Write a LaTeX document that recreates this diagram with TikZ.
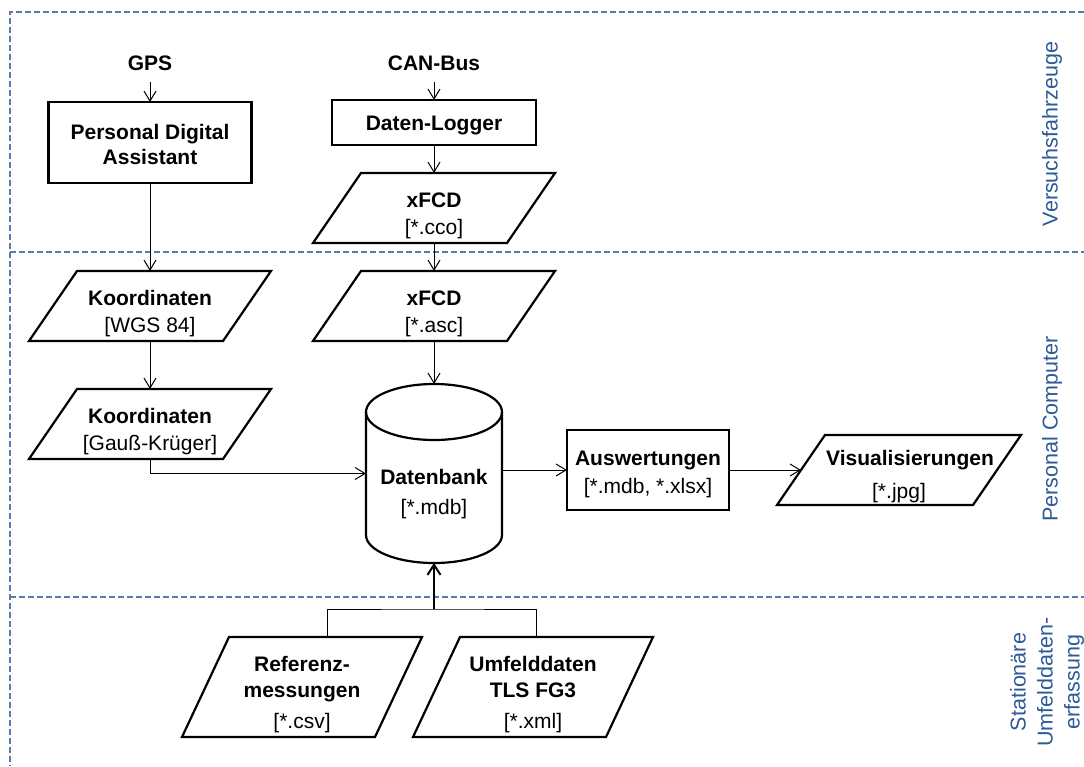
\documentclass[tikz,border=0pt]{standalone}
\usepackage{fontspec}
\setmainfont{Liberation Sans}
\usetikzlibrary{arrows.meta,calc}
\definecolor{dashc}{RGB}{90,122,170}
\definecolor{labc}{RGB}{46,90,151}
\newcommand\myrise[1]{\rule{0pt}{#1pt}}
\newcommand\myparallelogram[2]{%
  \draw[shp] ($(#1.south west)+(-#2,0)$) -- ($(#1.north west)+(#2,0)$) --
    ($(#1.north east)+(#2,0)$) -- ($(#1.south east)+(-#2,0)$) -- cycle;}
\begin{document}
\begin{tikzpicture}[x=1pt,y=-1pt,
  base/.style={inner sep=0pt, outer sep=0pt, align=center, font=\fontsize{21}{27}\selectfont},
  head/.style={base, font=\fontsize{21}{27}\selectfont\bfseries},
  shp/.style={draw=black, line width=2.2pt, line join=miter},
  boxn/.style={base, draw=black, line width=2.2pt, minimum width=#1},
  paran/.style={base, minimum width=194, minimum height=70},
  conn/.style={draw=black, line width=1pt},
  arr/.style={conn, -{Straight Barb[length=10pt,width=12pt]}},
  trunk/.style={draw=black, line width=2pt, -{Straight Barb[length=10pt,width=13pt]}},
  frame/.style={draw=dashc, line width=1.2pt, dash pattern=on 6pt off 3pt},
  side/.style={base, text=labc, rotate=90, font=\fontsize{21.5}{27}\selectfont},
]
\fill[white] (0,0) rectangle (1084,766);
\useasboundingbox (0,0) rectangle (1084,766);
% frame
\draw[frame] (1084,12) -- (10,12) -- (10,766);
\draw[frame] (10,252) -- (1084,252);
\draw[frame] (10,597) -- (1084,597);
% side labels
\node[side] (l1) at (1052,134) {Versuchsfahrzeuge};
\node[side] (l2) at (1052,429) {Personal Computer};
\node[side] (l3) at (1047,682) {Stationäre\\Umfelddaten-\\erfassung};
% nodes
\node[head] (gps) at (150,63) {GPS};
\node[boxn=203, minimum height=81] (pda) at (150,142.5) {\myrise{19}\textbf{Personal Digital}\\[-2pt]\textbf{Assistant}};
\node[head] (can) at (434,63) {CAN-Bus};
\node[boxn=204, minimum height=45] (dl) at (434,122.5) {\myrise{21.4}\textbf{Daten-Logger}};
\node[paran] (x1) at (434,208) {\myrise{30.5}\textbf{xFCD}\\{[*.cco]}};
\node[paran] (x2) at (434,306) {\myrise{30.5}\textbf{xFCD}\\{[*.asc]}};
\node[paran] (k1) at (150,306) {\myrise{30.5}\textbf{Koordinaten}\\{[WGS 84]}};
\node[paran] (k2) at (150,424) {\myrise{30.5}\textbf{Koordinaten}\\{[Gauß-Krüger]}};
\node[base, minimum width=136, minimum height=179] (db) at (434,473.5) {};
\node[base] (dbt) at (434,494) {\textbf{Datenbank}\\[3pt]{[*.mdb]}};
\node[boxn=162, minimum height=80] (aus) at (648,470) {\myrise{23.6}\textbf{Auswertungen}\\[1pt]{[*.mdb, *.xlsx]}};
\node[paran, minimum width=196] (vis) at (899,470) {\myrise{28.4}\hspace*{22pt}\textbf{Visualisierungen}\\[6pt]{[*.jpg]}};
\node[paran, minimum width=193, minimum height=100] (ref) at (302,687) {\myrise{30.6}\textbf{Referenz-}\\[-1pt]\textbf{messungen}\\[4pt]{[*.csv]}};
\node[paran, minimum width=193, minimum height=100] (umf) at (533,687) {\myrise{30.6}\textbf{Umfelddaten}\\[-1pt]\textbf{TLS FG3}\\[4pt]{[*.xml]}};
% shapes
\myparallelogram{x1}{24}
\myparallelogram{x2}{24}
\myparallelogram{k1}{24}
\myparallelogram{k2}{24}
\myparallelogram{vis}{24}
\myparallelogram{ref}{23.5}
\myparallelogram{umf}{23.5}
\draw[shp] ($(db.north)+(0,28)$) ellipse [x radius=68pt, y radius=28pt];
\draw[shp] ($(db.north west)+(0,28)$) -- ($(db.south west)+(0,-28)$)
  arc[start angle=180, end angle=360, x radius=68pt, y radius=28pt] -- ($(db.north east)+(0,28)$);
% connectors
\draw[arr, shorten <=12pt] (gps.south) -- (pda.north);
\draw[arr, shorten <=12pt] (can.south) -- (dl.north);
\draw[arr] (pda.south) -- (k1.north);
\draw[arr] (dl.south) -- (x1.north);
\draw[arr] (x1.south) -- (x2.north);
\draw[arr] (k1.south) -- (k2.north);
\draw[arr] (x2.south) -- (db.north);
\draw[arr] (k2.south) |- (db.west);
\draw[arr] (db.east |- aus.west) -- (aus.west);
\draw[arr] (aus.east) -- (vis.west);
\coordinate (bj) at (434,609);
\draw[conn] ($(ref.north)+(25,0)$) |- (bj) -| ($(umf.north)+(3,0)$);
\draw[trunk] (bj) -- (db.south);
\end{tikzpicture}
\end{document}
